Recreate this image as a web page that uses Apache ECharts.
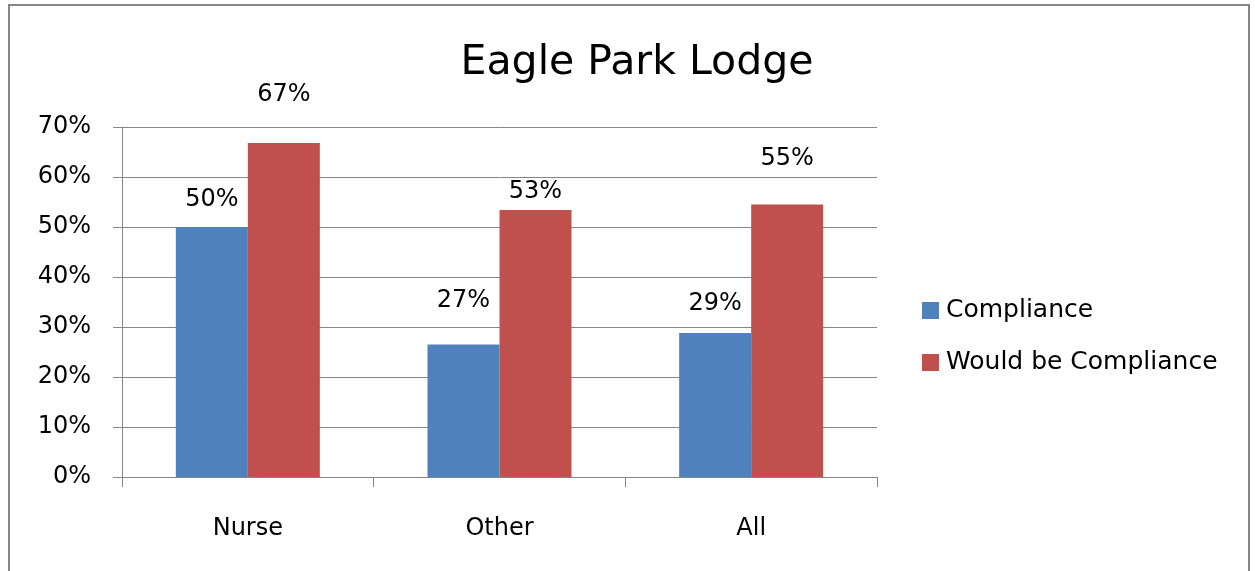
<!DOCTYPE html>
<html>
<head>
<meta charset="utf-8">
<script src="https://cdn.jsdelivr.net/npm/echarts@6/dist/echarts.min.js"></script>
<style>
    html, body {margin: 0; padding: 0; background: #fff;}
    #chart {width: 1255px; height: 571px;}
</style>
</head>
<body>
<div id="chart"></div>
<script>
// values in percent
const categories = ['Nurse', 'Other', 'All'];
const compliance = [50, 26.5, 28.8];
const wouldBeCompliance = [66.8, 53.4, 54.5];
const yTicks = [0, 10, 20, 30, 40, 50, 60, 70];

// how far each data label sits above its bar (Excel put them unevenly)
const complianceLift = [15, 32, 17];
const wouldBeLift = [36, 6, 34];

const FONT = '"DejaVu Sans", sans-serif';
const GREY = '#868686';

function with_labels(values, lifts) {
    return values.map(function (v, i) {
        return {value: v, label: {distance: lifts[i]}};
    });
}

function build_option() {
    return {
        animation: false,
        textStyle: {fontFamily: FONT, color: '#000'},
        title: {
            text: 'Eagle Park Lodge',
            left: 632, top: 38,
            textAlign: 'center',
            textStyle: {fontFamily: FONT, fontSize: 41, fontWeight: 'normal', color: '#000'}
        },
        graphic: [{
            type: 'rect',
            shape: {x: 9, y: 5, width: 1240, height: 590},
            style: {fill: 'none', stroke: GREY, lineWidth: 2},
            silent: true
        }],
        legend: {
            orient: 'vertical',
            left: 917, top: 293,
            itemWidth: 17, itemHeight: 17,
            itemGap: 27,
            icon: 'rect',
            textStyle: {fontFamily: FONT, fontSize: 25, color: '#000', padding: [0, 0, 0, 2]}
        },
        grid: {left: 122, right: 378, top: 127, bottom: 94},
        xAxis: {
            type: 'category',
            data: categories,
            axisLine: {lineStyle: {color: GREY}},
            axisTick: {show: true, length: 10, lineStyle: {color: GREY}},
            axisLabel: {fontFamily: FONT, fontSize: 24, color: '#000', margin: 40}
        },
        yAxis: {
            type: 'value',
            min: yTicks[0], max: yTicks[yTicks.length - 1], interval: 10,
            axisLine: {show: true, lineStyle: {color: GREY}},
            axisTick: {show: true, length: 9, lineStyle: {color: GREY}},
            splitLine: {lineStyle: {color: GREY}},
            axisLabel: {
                fontFamily: FONT, fontSize: 24, color: '#000', margin: 31,
                padding: [5, 0, 0, 0],
                formatter: v => `${v}%`
            }
        },
        series: [
            {
                name: 'Compliance', type: 'bar',
                data: with_labels(compliance, complianceLift),
                barWidth: 72, barGap: '0%',
                itemStyle: {color: '#4F81BD'},
                label: {
                    show: true, position: 'top', fontFamily: FONT, fontSize: 24, color: '#000',
                    formatter: p => `${Math.round(p.value)}%`
                }
            },
            {
                name: 'Would be Compliance', type: 'bar',
                data: with_labels(wouldBeCompliance, wouldBeLift),
                barWidth: 72, barGap: '0%',
                itemStyle: {color: '#C0504D'},
                label: {
                    show: true, position: 'top', fontFamily: FONT, fontSize: 24, color: '#000',
                    formatter: p => `${Math.round(p.value)}%`
                }
            }
        ]
    };
}

let chart = echarts.init(document.getElementById('chart'), null, {renderer: 'canvas'});
chart.setOption(build_option());
</script>
</body>
</html>
